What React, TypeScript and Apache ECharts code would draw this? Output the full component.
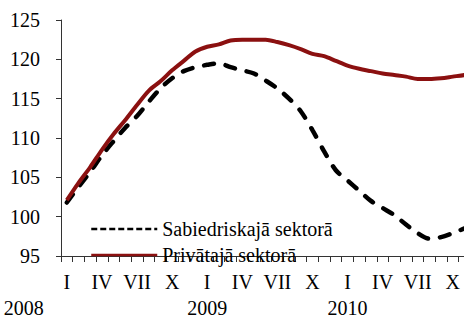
import React, { useEffect, useRef } from "react";
import * as echarts from "echarts";

const categories: string[] = [
  "2008-01","2008-02","2008-03","2008-04","2008-05","2008-06","2008-07","2008-08","2008-09","2008-10","2008-11","2008-12",
  "2009-01","2009-02","2009-03","2009-04","2009-05","2009-06","2009-07","2009-08","2009-09","2009-10","2009-11","2009-12",
  "2010-01","2010-02","2010-03","2010-04","2010-05","2010-06","2010-07","2010-08","2010-09","2010-10","2010-11","2010-12",
];
const monthLabels: string[] = ["I","II","III","IV","V","VI","VII","VIII","IX","X","XI","XII"];
const yearLabels: string[] = ["2008", "2009", "2010"];

const publicName = "Sabiedriskajā sektorā";
const privateName = "Privātajā sektorā";

const publicSector: number[] = [
  101.8, 103.8, 105.7, 107.8, 109.6, 111.3, 112.8, 114.6, 116.3, 117.6, 118.5, 119.0,
  119.3, 119.5, 119.0, 118.6, 118.2, 117.3, 116.3, 115.0, 113.4, 111.0, 108.3, 105.9,
  104.6, 103.3, 102.0, 101.1, 100.2, 99.0, 97.9, 97.2, 97.4, 97.9, 98.5, 99.0,
];
const privateSector: number[] = [
  102.1, 104.3, 106.3, 108.5, 110.5, 112.3, 114.2, 116.0, 117.2, 118.6, 119.8, 121.0,
  121.6, 121.9, 122.4, 122.5, 122.5, 122.5, 122.2, 121.8, 121.3, 120.7, 120.4, 119.8,
  119.2, 118.8, 118.5, 118.2, 118.0, 117.8, 117.5, 117.5, 117.6, 117.8, 118.0, 118.1,
];

const FONT = "Liberation Serif";
const FS = 20;

export default function App() {
  const ref = useRef<HTMLDivElement>(null);
  useEffect(() => {
    if (!ref.current) return;
    const chart = echarts.init(ref.current, null, { renderer: "svg" });
    chart.setOption({
      animation: false,
      backgroundColor: "#ffffff",
      textStyle: { fontFamily: FONT },
      grid: { left: 61, top: 20, bottom: 58, right: 18, containLabel: false },
      legend: {
        orient: "vertical",
        left: 85,
        top: 214,
        itemWidth: 66,
        itemHeight: 19,
        itemGap: 6,
        selectedMode: false,
        textStyle: { fontFamily: FONT, fontSize: FS, color: "#000" },
        data: [
          {
            name: publicName,
            lineStyle: { type: [6, 3], width: 2.5, color: "#000", cap: "butt" },
            itemStyle: { opacity: 0, borderWidth: 0 },
          },
          {
            name: privateName,
            lineStyle: { type: "solid", width: 2.5, color: "#8b1010" },
            itemStyle: { opacity: 0, borderWidth: 0 },
          },
        ],
      },
      xAxis: [
        {
          type: "category",
          data: categories,
          boundaryGap: true,
          axisLine: { lineStyle: { color: "#333", width: 1 } },
          axisTick: { show: true, interval: 0, length: 6, lineStyle: { color: "#333" } },
          axisLabel: {
            interval: 2,
            margin: 16,
            color: "#000",
            fontFamily: FONT,
            fontSize: FS,
            formatter: (_v: string, index: number) => monthLabels[index % 12],
          },
          splitLine: { show: false },
        },
        {
          type: "category",
          data: categories,
          boundaryGap: true,
          position: "bottom",
          offset: 0,
          axisLine: { show: false },
          axisTick: { show: false },
          axisLabel: {
            interval: (index: number) => index % 12 === 0,
            margin: 42,
            color: "#000",
            fontFamily: FONT,
            fontSize: FS,
            formatter: (_v: string, index: number) => {
              const y = Math.floor(index / 12);
              return y === 0 ? `{yf|${yearLabels[y]}}` : `{y|${yearLabels[y]}}`;
            },
            rich: {
              y: { fontFamily: FONT, fontSize: FS, color: "#000" },
              yf: { fontFamily: FONT, fontSize: FS, color: "#000", padding: [0, 86, 0, 0] },
            },
          },
          splitLine: { show: false },
        },
      ],
      yAxis: {
        type: "value",
        min: 95,
        max: 125,
        interval: 5,
        axisLine: { show: true, lineStyle: { color: "#333", width: 1 } },
        axisTick: { show: true, length: 5, lineStyle: { color: "#333" } },
        axisLabel: { margin: 21, color: "#000", fontFamily: FONT, fontSize: FS },
        splitLine: { show: false },
      },
      series: [
        {
          name: publicName,
          type: "line",
          xAxisIndex: 0,
          data: publicSector,
          showSymbol: false,
          symbol: "none",
          smooth: 0.3,
          lineStyle: { color: "#000", width: 4.5, type: [10, 12], cap: "round" },
          itemStyle: { color: "#000" },
          z: 2,
        },
        {
          name: privateName,
          type: "line",
          xAxisIndex: 0,
          data: privateSector,
          showSymbol: false,
          symbol: "none",
          smooth: 0.3,
          lineStyle: { color: "#8b1010", width: 4 },
          itemStyle: { color: "#8b1010" },
          z: 3,
        },
      ],
    });
    return () => chart.dispose();
  }, []);
  return (
    <div style={{ position: "absolute", left: 0, top: 0, width: 464, height: 318, overflow: "hidden", background: "#fff" }}>
      <div ref={ref} style={{ width: 500, height: 318 }} />
    </div>
  );
}
